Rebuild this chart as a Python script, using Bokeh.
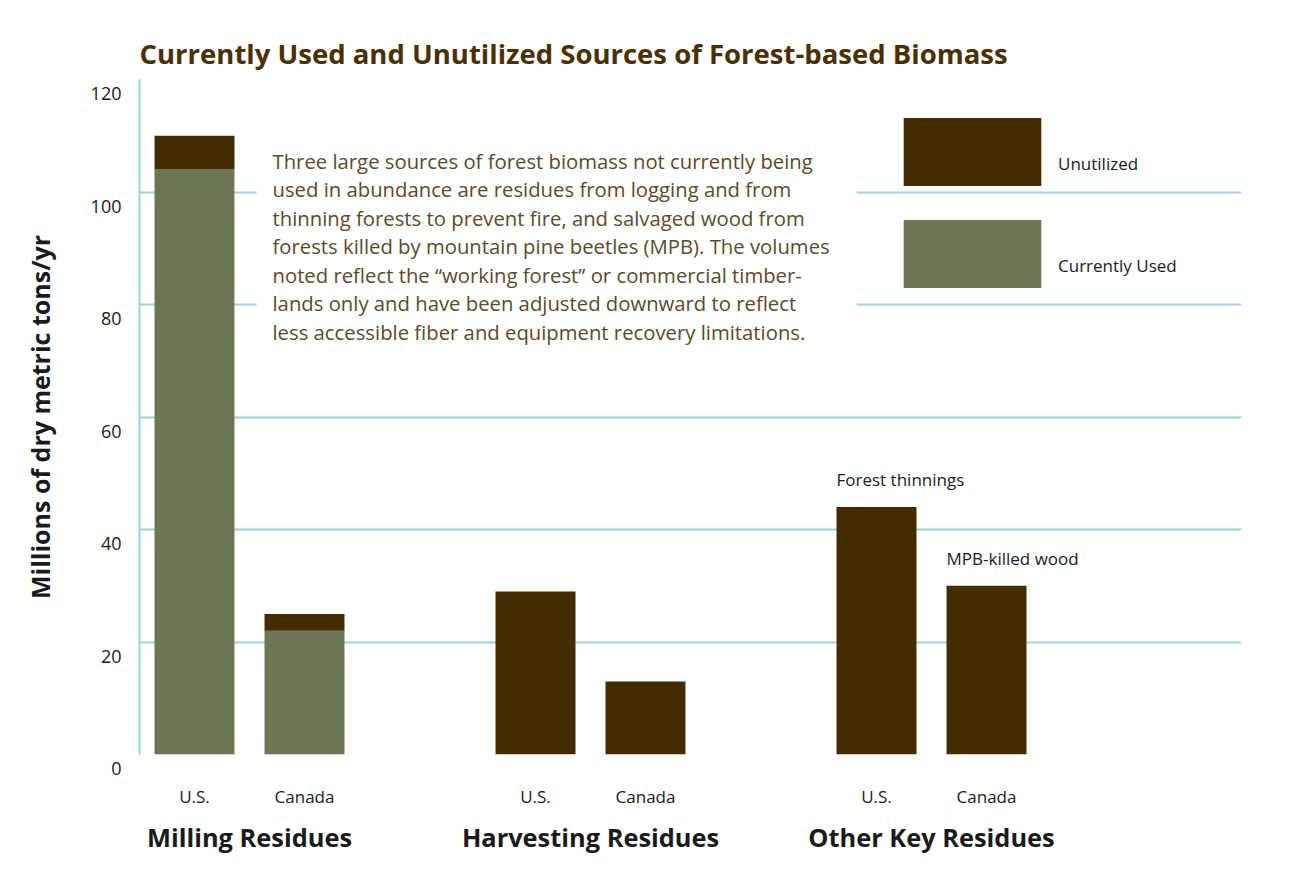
from bokeh.plotting import figure
from bokeh.models import (Range1d, FixedTicker, LinearAxis, Legend, LegendItem,
                          BoxAnnotation, Label, ColumnDataSource)
from bokeh.core.properties import value
from bokeh.embed import file_html
from bokeh.resources import INLINE

# ---------------- data ----------------
groups = ["Milling Residues", "Harvesting Residues", "Other Key Residues"]
countries = ["U.S.", "Canada"]
currently_used = [104, 22, 0, 0, 0, 0]
unutilized = [6, 3, 29, 13, 44, 30]
bar_notes = ["", "", "", "", "Forest thinnings", "MPB-killed wood"]
y_ticks = [0, 20, 40, 60, 80, 100, 120]
title_text = "Currently Used and Unutilized Sources of Forest-based Biomass"
y_title = "Millions of dry metric tons/yr"
legend_labels = ["Unutilized", "Currently Used"]
note_text = ("Three large sources of forest biomass not currently being\n"
             "used in abundance are residues from logging and from\n"
             "thinning forests to prevent fire, and salvaged wood from\n"
             "forests killed by mountain pine beetles (MPB). The volumes\n"
             "noted reflect the \u201cworking forest\u201d or commercial timber-\n"
             "lands only and have been adjusted downward to reflect\n"
             "less accessible fiber and equipment recovery limitations.")

# ---------------- style ----------------
BROWN = "#452c00"
GREEN = "#6b7753"
GRID = "#9fd3d8"
TITLE_C = "#4a3000"
NOTE_C = "#5c4a2c"
TXT = "#1a1a1a"
FONT = "Open Sans"

GROUP_STEP = 3.1
BAR_W = 0.727
x_pos = [0.5 + g * GROUP_STEP + i for g in range(len(groups)) for i in range(len(countries))]
bar_labels = [c for g in groups for c in countries]
group_centers = [0.5 + g * GROUP_STEP + 0.5 for g in range(len(groups))]
totals = [u + n for u, n in zip(currently_used, unutilized)]

src = ColumnDataSource(dict(
    x=x_pos, used=currently_used, unutilized=unutilized, total=totals,
    note=bar_notes, left=[x - BAR_W / 2 for x in x_pos]))

p = figure(width=1293, height=869, output_backend="svg", toolbar_location=None,
           x_range=Range1d(0, 10.018), y_range=Range1d(0, 120),
           min_border_left=139, min_border_top=79, min_border_right=52,
           min_border_bottom=115)
p.outline_line_color = None
p.background_fill_color = "white"

# title
p.title.text = title_text
p.title.text_font = FONT
p.title.text_font_size = "27.5px"
p.title.text_font_style = "bold"
p.title.text_color = TITLE_C
p.title.align = "left"
p.title.standoff = 16

# bars
rs = p.vbar_stack(["used", "unutilized"], x="x", width=BAR_W, color=[GREEN, BROWN],
                  line_color=None, source=src)

# notes above bars
p.text(x="left", y="total", text="note", source=src, text_baseline="bottom",
       text_align="left", y_offset=-16, text_font=value(FONT),
       text_font_size="17px", text_color=TXT)

# grid
p.xgrid.visible = False
p.ygrid.ticker = FixedTicker(ticks=y_ticks)
p.ygrid.grid_line_color = GRID
p.ygrid.grid_line_width = 2

# y axis (labels sit a little below their grid lines, as in the original)
ya = p.yaxis[0]
ya.ticker = FixedTicker(ticks=y_ticks)
ya.major_label_overrides = {t: "\n" + str(t) for t in y_ticks}
ya.axis_line_color = GRID
ya.axis_line_width = 2
ya.major_tick_line_color = None
ya.minor_tick_line_color = None
ya.major_tick_out = 0
ya.major_label_text_font = FONT
ya.major_label_text_font_size = "18px"
ya.major_label_text_color = TXT
ya.major_label_text_line_height = 1.15
ya.major_label_standoff = 18
ya.axis_label = y_title
ya.axis_label_text_font = FONT
ya.axis_label_text_font_size = "25px"
ya.axis_label_text_font_style = "bold"
ya.axis_label_text_color = TXT
ya.axis_label_standoff = 31

# x axis: bar labels
xa = p.xaxis[0]
xa.ticker = FixedTicker(ticks=x_pos)
xa.major_label_overrides = {x: l for x, l in zip(x_pos, bar_labels)}
xa.axis_line_color = None
xa.major_tick_line_color = None
xa.minor_tick_line_color = None
xa.major_tick_out = 0
xa.major_label_text_font = FONT
xa.major_label_text_font_size = "17px"
xa.major_label_text_color = TXT
xa.major_label_standoff = 30

# x axis: group labels
ga = LinearAxis(ticker=FixedTicker(ticks=group_centers),
                major_label_overrides={x: g for x, g in zip(group_centers, groups)})
ga.axis_line_color = None
ga.major_tick_line_color = None
ga.minor_tick_line_color = None
ga.major_tick_out = 0
ga.major_label_text_font = FONT
ga.major_label_text_font_size = "25.4px"
ga.major_label_text_font_style = "bold"
ga.major_label_text_color = TXT
ga.major_label_standoff = 9
p.add_layout(ga, "below")

# white box behind description
p.add_layout(BoxAnnotation(left=1.064, right=6.518, top=109.0, bottom=71.7,
                           fill_color="white", fill_alpha=1, line_color=None))
p.add_layout(Label(x=1.209, y=108.0, text=note_text, text_font=FONT,
                   text_font_size="20.3px", text_color=NOTE_C, text_baseline="top",
                   text_align="left", text_line_height=1.017))

# legend
legend = Legend(items=[LegendItem(label="\n" + legend_labels[0], renderers=[rs[1]]),
                       LegendItem(label="\n" + legend_labels[1], renderers=[rs[0]])],
                location=(747, 458), glyph_width=172, glyph_height=85, spacing=17,
                padding=0, margin=0, label_standoff=0, border_line_color=None,
                background_fill_alpha=0, label_text_font=FONT,
                label_text_font_size="17px", label_text_color=TXT,
                label_text_line_height=1.2)
p.add_layout(legend)

open("out.html", "w").write(file_html(p, INLINE))
